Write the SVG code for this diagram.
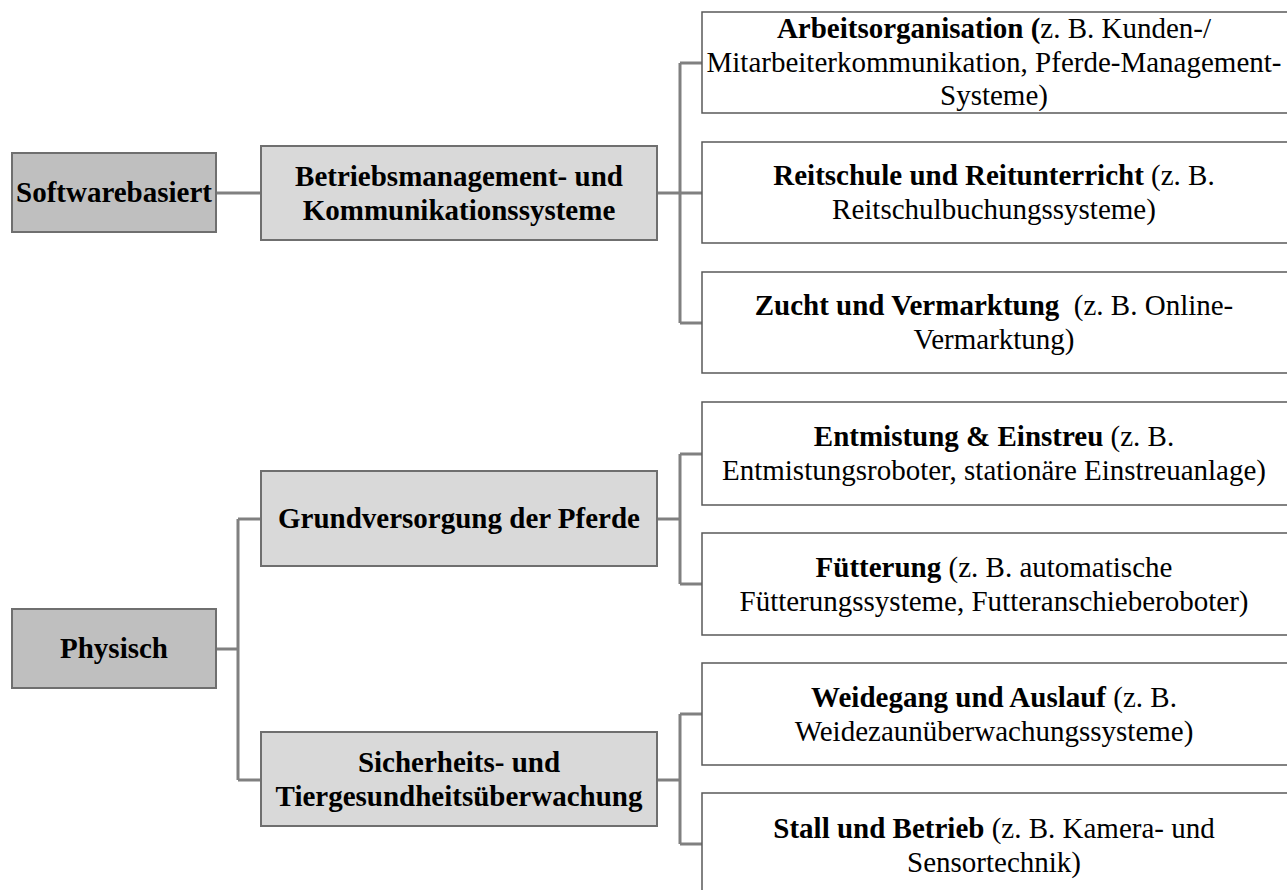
<svg xmlns="http://www.w3.org/2000/svg" width="1287" height="890" viewBox="0 0 1287 890">
<style>
text{font-family:"Liberation Serif","Times New Roman",serif;font-size:29px;fill:#000;text-anchor:middle}
.b{font-weight:bold}
.l1{fill:#bfbfbf;stroke:#6f6f6f;stroke-width:2}
.l2{fill:#d9d9d9;stroke:#6f6f6f;stroke-width:2}
.l3{fill:#fff;stroke:#595959;stroke-width:1.5}
.c{fill:none;stroke:#808080;stroke-width:3}
</style>
<rect width="1287" height="890" fill="#fff"/>
<g id="connectors">
<path class="c" d="M216 193H261"/>
<path class="c" d="M657 193H680M680 63V323M680 63H702M680 193H702M680 323H702"/>
<path class="c" d="M216 649H238M238 519V780M238 519H261M238 780H261"/>
<path class="c" d="M657 519H680M680 454V584M680 454H702M680 584H702"/>
<path class="c" d="M657 780H680M680 714V844M680 714H702M680 844H702"/>
</g>
<g id="softwarebasiert">
<rect class="l1" x="12" y="153" width="204" height="79"/>
<text class="b" x="114" y="202">Softwarebasiert</text>
</g>
<g id="physisch">
<rect class="l1" x="12" y="609" width="204" height="79"/>
<text class="b" x="114" y="658">Physisch</text>
</g>
<g id="betriebsmanagement">
<rect class="l2" x="261" y="146" width="396" height="94"/>
<text class="b" x="459" y="186">Betriebsmanagement- und</text>
<text class="b" x="459" y="220">Kommunikationssysteme</text>
</g>
<g id="grundversorgung">
<rect class="l2" x="261" y="471" width="396" height="95"/>
<text class="b" x="459" y="528">Grundversorgung der Pferde</text>
</g>
<g id="sicherheit">
<rect class="l2" x="261" y="732" width="396" height="94"/>
<text class="b" x="459" y="772">Sicherheits- und</text>
<text class="b" x="459" y="806">Tiergesundheitsüberwachung</text>
</g>
<g id="arbeitsorganisation">
<rect class="l3" x="702" y="12" width="586" height="101"/>
<text x="994" y="38"><tspan class="b">Arbeitsorganisation (</tspan>z. B. Kunden-/</text>
<text x="994" y="72">Mitarbeiterkommunikation, Pferde-Management-</text>
<text x="994" y="105">Systeme)</text>
</g>
<g id="reitschule">
<rect class="l3" x="702" y="142" width="586" height="101"/>
<text x="994" y="185"><tspan class="b">Reitschule und Reitunterricht</tspan> (z. B.</text>
<text x="994" y="219">Reitschulbuchungssysteme)</text>
</g>
<g id="zucht">
<rect class="l3" x="702" y="272" width="586" height="101"/>
<text x="994" y="315" xml:space="preserve"><tspan class="b">Zucht und Vermarktung</tspan>  (z. B. Online-</text>
<text x="994" y="349">Vermarktung)</text>
</g>
<g id="entmistung">
<rect class="l3" x="702" y="402" width="586" height="103"/>
<text x="994" y="446"><tspan class="b">Entmistung &amp; Einstreu</tspan> (z. B.</text>
<text x="994" y="480">Entmistungsroboter, stationäre Einstreuanlage)</text>
</g>
<g id="fuetterung">
<rect class="l3" x="702" y="533" width="586" height="102"/>
<text x="994" y="577"><tspan class="b">Fütterung</tspan> (z. B. automatische</text>
<text x="994" y="611">Fütterungssysteme, Futteranschieberoboter)</text>
</g>
<g id="weidegang">
<rect class="l3" x="702" y="663" width="586" height="102"/>
<text x="994" y="707"><tspan class="b">Weidegang und Auslauf</tspan> (z. B.</text>
<text x="994" y="741">Weidezaunüberwachungssysteme)</text>
</g>
<g id="stall">
<rect class="l3" x="702" y="793" width="586" height="104"/>
<text x="994" y="838"><tspan class="b">Stall und Betrieb</tspan> (z. B. Kamera- und</text>
<text x="994" y="872">Sensortechnik)</text>
</g>
</svg>
